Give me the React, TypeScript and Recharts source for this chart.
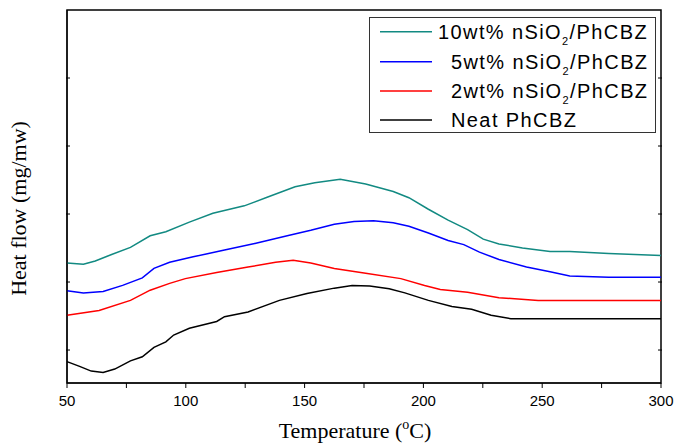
import React from 'react';
import { LineChart, Line, XAxis, YAxis, ReferenceArea } from 'recharts';

// ---- data ----
const xTicks = [50, 75, 100, 125, 150, 175, 200, 225, 250, 275, 300];
const yTicks = [0, 1, 2, 3, 4];
const xDomain = [50, 300];
const yDomain = [-0.485, 5];

const tempTeal = [50, 56.9, 61.9, 68.5, 76.7, 85, 91.6, 101.5, 111.4, 124.6, 134.5, 146, 154.3, 165, 175.7, 187.3, 193.9, 202.1, 210.4, 218.6, 225.2, 231.8, 241.7, 253.3, 261.6, 278, 300];
const heatTeal = [1.28, 1.26, 1.31, 1.40, 1.51, 1.68, 1.74, 1.88, 2.01, 2.12, 2.25, 2.40, 2.46, 2.51, 2.44, 2.33, 2.24, 2.07, 1.91, 1.77, 1.63, 1.56, 1.50, 1.45, 1.45, 1.42, 1.39];

const tempBlue = [50, 56.9, 65.2, 73.4, 81.7, 86.6, 93.2, 103.1, 116.3, 129.5, 142.7, 152.6, 162.5, 170.8, 179, 187.3, 193.9, 202.1, 210.4, 217, 223.6, 231.8, 243.4, 253.3, 261.6, 278, 300];
const heatBlue = [0.87, 0.84, 0.86, 0.95, 1.06, 1.20, 1.29, 1.37, 1.47, 1.57, 1.68, 1.76, 1.85, 1.89, 1.90, 1.87, 1.82, 1.72, 1.61, 1.55, 1.44, 1.33, 1.22, 1.15, 1.09, 1.07, 1.07];

const tempRed = [50, 63.5, 76.7, 85, 93.2, 99.8, 113, 126.2, 137.8, 145.2, 152.6, 162.5, 175.7, 190.5, 200.5, 207.1, 218.6, 231.8, 248.3, 300];
const heatRed = [0.51, 0.58, 0.73, 0.88, 0.98, 1.05, 1.14, 1.22, 1.29, 1.32, 1.28, 1.20, 1.13, 1.05, 0.95, 0.89, 0.85, 0.77, 0.73, 0.73];

const tempBlack = [50, 55.3, 60.2, 65.2, 70.1, 76.7, 81.7, 86.6, 91.6, 94.9, 101.5, 113, 116.3, 126.2, 139.4, 151, 162.5, 170, 177.4, 185.6, 192.2, 202.1, 212, 220.3, 228.5, 236.8, 300];
const heatBlack = [-0.17, -0.24, -0.31, -0.33, -0.28, -0.16, -0.10, 0.04, 0.12, 0.22, 0.32, 0.42, 0.49, 0.56, 0.73, 0.83, 0.91, 0.95, 0.94, 0.90, 0.84, 0.73, 0.64, 0.60, 0.51, 0.46, 0.46];

const seriesNames = ['10wt% nSiO2/PhCBZ', '5wt% nSiO2/PhCBZ', '2wt% nSiO2/PhCBZ', 'Neat PhCBZ'];
const seriesColors = ['#128a82', '#0000ff', '#ff0000', '#000000'];

const build = (ts: number[], vs: number[]) => ts.map((t, i) => ({ t, v: vs[i] }));
const seriesData = [
  build(tempTeal, heatTeal),
  build(tempBlue, heatBlue),
  build(tempRed, heatRed),
  build(tempBlack, heatBlack),
];

// layout constants
const CHART_W = 674;
const CHART_H = 443;
const MARGIN = { top: 10, right: 13, bottom: 0, left: 0 };
const Y_AXIS_W = 67;
const X_AXIS_H = 60;
const PLOT_W = CHART_W - MARGIN.left - MARGIN.right - Y_AXIS_W;
const TICK_LEN = 5;

const SANS = '"Liberation Sans", Arial, sans-serif';
const SERIF = '"Liberation Serif", "Times New Roman", serif';

// bottom tick label (tick line itself drawn by the axis)
const BottomTick = (props: any) => {
  const { x, y, payload } = props;
  const major = payload.value % 50 === 0;
  if (!major) return <g />;
  return (
    <text x={x} y={y + 18} textAnchor="middle" fontSize={15} fontFamily={SANS} fill="#000">
      {payload.value}
    </text>
  );
};

// left tick inward, plus mirrored inward tick on the right frame
const LeftTick = (props: any) => {
  const { x, y } = props;
  return (
    <g>
      <rect x={x - 1} y={y - 0.5} width={4} height={1} fill="#000" />
      <rect x={x + PLOT_W - 3} y={y - 0.5} width={4} height={1} fill="#000" />
    </g>
  );
};

const XTitle = (props: any) => {
  const vb = props.viewBox;
  return (
    <text x={vb.x + vb.width / 2 - 9} y={vb.y + 55} textAnchor="middle" fontSize={22} fontFamily={SERIF} fill="#000">
      Temperature (
      <tspan fontSize={14} dy={-9}>o</tspan>
      <tspan dy={9}>C)</tspan>
    </text>
  );
};

const YTitle = (props: any) => {
  const vb = props.viewBox;
  const cx = vb.x + 26;
  const cy = vb.y + vb.height / 2 + 12;
  return (
    <text x={cx} y={cy} textAnchor="middle" fontSize={22} fontFamily={SERIF} fill="#000" transform={`rotate(-90, ${cx}, ${cy})`}>
      Heat flow (mg/mw)
    </text>
  );
};

const rowY = [14.7, 44.7, 74, 103];
const textX = [69, 82, 82, 82];

const LegendBox = () => (
  <svg width={287} height={116} style={{ display: 'block' }}>
    <rect x={0.5} y={0.5} width={286} height={115} fill="#fff" stroke="#333" strokeWidth={1} />
    {seriesNames.map((name, i) => {
      const hasSub = name.includes('SiO2');
      const [pre, post] = hasSub ? name.split('SiO2') : [name, ''];
      return (
        <g key={name}>
          <line x1={11} x2={63} y1={rowY[i]} y2={rowY[i]} stroke={seriesColors[i]} strokeWidth={1.5} />
          <text x={textX[i]} y={rowY[i] + 7} fontSize={20} fontFamily={SANS} letterSpacing={1.4} fill="#000">
            {hasSub ? (
              <>
                {pre + 'SiO'}
                <tspan fontSize={11} dy={6}>2</tspan>
                <tspan dy={-6}>{post}</tspan>
              </>
            ) : (
              name
            )}
          </text>
        </g>
      );
    })}
  </svg>
);

export default function App() {
  return (
    <div style={{ position: 'absolute', left: 0, top: 0, width: CHART_W, height: CHART_H }}>
      <LineChart width={CHART_W} height={CHART_H} margin={MARGIN}>
        <XAxis
          xAxisId="b"
          dataKey="t"
          type="number"
          domain={xDomain}
          ticks={xTicks}
          interval={0}
          height={X_AXIS_H}
          tickSize={TICK_LEN}
          tickMargin={0}
          stroke="#000"
          tick={<BottomTick />}
          label={{ content: <XTitle /> } as any}
        />
        <YAxis
          yAxisId="l"
          type="number"
          domain={yDomain}
          ticks={yTicks}
          interval={0}
          width={Y_AXIS_W}
          tickSize={0}
          tickMargin={0}
          tickLine={false}
          stroke="#000"
          tick={<LeftTick />}
          label={{ content: <YTitle /> } as any}
        />
        <ReferenceArea
          xAxisId="b"
          yAxisId="l"
          x1={xDomain[0]}
          x2={xDomain[1]}
          y1={yDomain[0]}
          y2={yDomain[1]}
          stroke="#000"
          strokeWidth={1.5}
          fill="#ffffff"
          fillOpacity={0}
        />
        {seriesData.map((d, i) => (
          <Line
            key={seriesNames[i]}
            xAxisId="b"
            yAxisId="l"
            data={d}
            dataKey="v"
            name={seriesNames[i]}
            type="linear"
            stroke={seriesColors[i]}
            strokeWidth={1.5}
            dot={false}
            activeDot={false}
            isAnimationActive={false}
          />
        ))}
      </LineChart>
      <div style={{ position: 'absolute', left: 369, top: 17 }}>
        <LegendBox />
      </div>
    </div>
  );
}
